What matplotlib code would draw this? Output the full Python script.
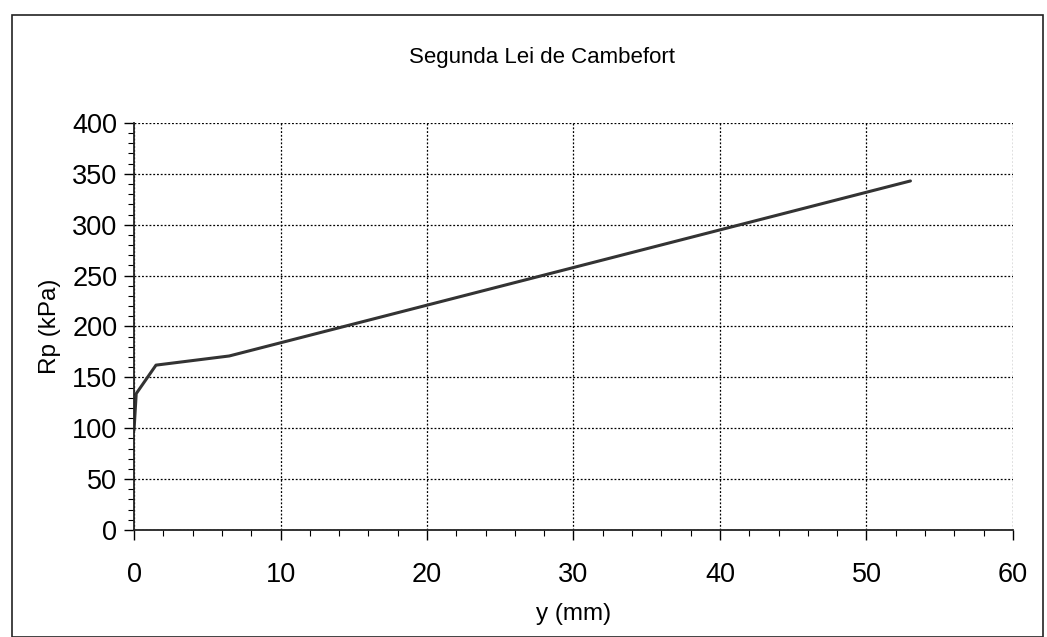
import matplotlib
matplotlib.use("Agg")
import matplotlib.pyplot as plt
from matplotlib.patches import Rectangle
from matplotlib.ticker import MultipleLocator

plt.rcParams['font.family'] = ['Liberation Sans', 'DejaVu Sans']

y_mm = [0.0, 0.15, 1.5, 6.5, 53.0]
rp_kpa = [98, 134, 162, 171, 343]

title = "Segunda Lei de Cambefort"
xlabel = "y (mm)"
ylabel = "Rp (kPa)"

fig = plt.figure(figsize=(10.47, 6.37), dpi=100)
ax = fig.add_axes([0.128, 0.168, 0.8395, 0.639])

ax.plot(y_mm, rp_kpa, color='#333333', linewidth=2.2, solid_capstyle='round')

ax.set_xlim(0, 60)
ax.set_ylim(0, 400)
ax.xaxis.set_major_locator(MultipleLocator(10))
ax.xaxis.set_minor_locator(MultipleLocator(2))
ax.yaxis.set_major_locator(MultipleLocator(50))
ax.yaxis.set_minor_locator(MultipleLocator(10))

ax.grid(True, which='major', linestyle=(0, (1.5, 1.5)), color='black', linewidth=0.9)
for s in ['top', 'right']:
    ax.spines[s].set_visible(False)
for s in ['left', 'bottom']:
    ax.spines[s].set_linewidth(1.3)
    ax.spines[s].set_color('#222222')

ax.tick_params(axis='x', which='major', length=7, width=1, pad=16, labelsize=19.5)
ax.tick_params(axis='y', which='major', length=7, width=1, pad=5, labelsize=19.5)
ax.tick_params(which='minor', length=4, width=0.8)

ax.set_xlabel(xlabel, fontsize=17.5, labelpad=11)
ax.set_ylabel(ylabel, fontsize=17.5, labelpad=8)
fig.text(0.518, 0.91, title, ha='center', va='center', fontsize=16)

fig.patches.append(Rectangle((0.011, 0.0), 0.985, 0.976, transform=fig.transFigure,
                             fill=False, edgecolor='#222222', linewidth=1.2))

fig.savefig("out.png", dpi=100)
